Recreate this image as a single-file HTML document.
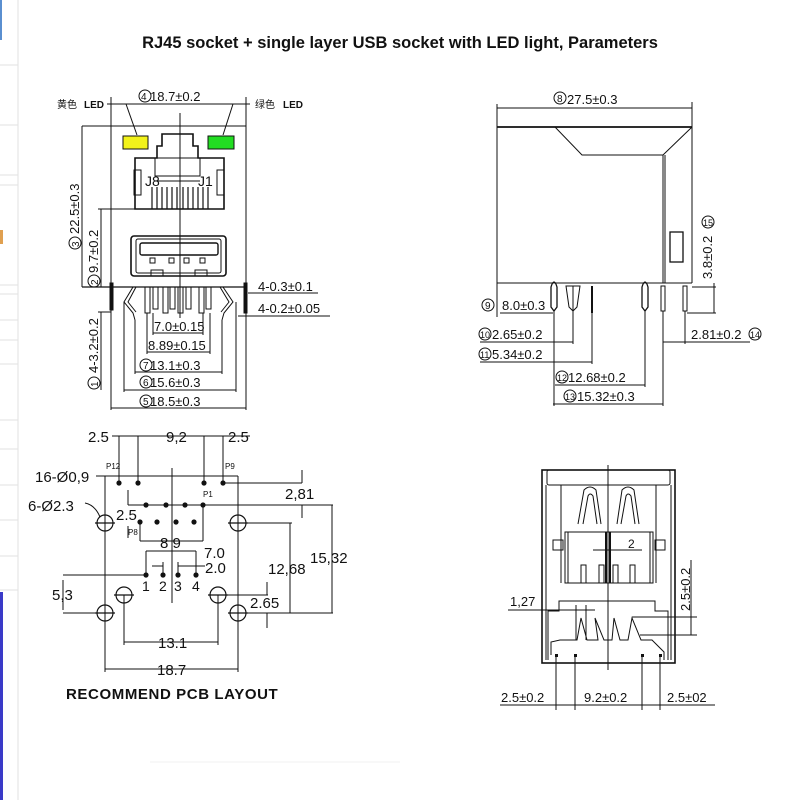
<!DOCTYPE html>
<html><head><meta charset="utf-8"><style>
html,body{margin:0;padding:0;background:#fff;width:800px;height:800px;overflow:hidden}
svg{display:block}
text{font-family:"Liberation Sans","Noto Sans CJK SC",sans-serif;fill:#111}
</style></head><body>
<svg width="800" height="800" viewBox="0 0 800 800" xmlns="http://www.w3.org/2000/svg">
<!-- left UI strip -->
<g stroke="#e2e2e2" stroke-width="1" fill="none">
<line x1="18" y1="0" x2="18" y2="800"/>
<line x1="0" y1="65" x2="18" y2="65"/><line x1="0" y1="125" x2="18" y2="125"/>
<line x1="0" y1="175" x2="18" y2="175"/><line x1="0" y1="185" x2="18" y2="185"/>
<line x1="0" y1="285" x2="18" y2="285"/><line x1="0" y1="294" x2="18" y2="294"/>
<line x1="0" y1="320" x2="18" y2="320"/><line x1="0" y1="340" x2="18" y2="340"/>
<line x1="0" y1="364" x2="18" y2="364"/><line x1="0" y1="420" x2="18" y2="420"/>
<line x1="0" y1="449" x2="18" y2="449"/><line x1="0" y1="485" x2="18" y2="485"/>
<line x1="0" y1="520" x2="18" y2="520"/><line x1="0" y1="556" x2="18" y2="556"/>
<line x1="0" y1="590" x2="18" y2="590"/>
</g>
<rect x="0" y="0" width="2" height="40" fill="#5a8fd0"/>
<rect x="0" y="230" width="3" height="14" fill="#e0a050"/>
<rect x="0" y="592" width="3" height="208" fill="#3a3ac8"/>

<text x="400" y="48" text-anchor="middle" font-size="16.5" font-weight="bold">RJ45 socket + single layer USB socket with LED light, Parameters</text>

<g stroke="#111" stroke-width="1" fill="none">
<!-- ===== TOP LEFT FRONT VIEW ===== -->
<line x1="111" y1="97" x2="111" y2="410"/><line x1="246" y1="97" x2="246" y2="410"/>
<line x1="111" y1="104" x2="246" y2="104"/>
<line x1="82" y1="126" x2="246" y2="126"/>
<line x1="107" y1="104" x2="126" y2="104"/><line x1="126" y1="104" x2="137" y2="135"/>
<line x1="250" y1="104" x2="233" y2="104"/><line x1="233" y1="104" x2="223" y2="135"/>
<line x1="180" y1="113" x2="180" y2="318"/>
<polygon points="135,209 135,158 157,158 157,146 162,146 162,134 193,134 193,146 198,146 198,158 224,158 224,209" stroke-width="1.6"/>
<rect x="155" y="158" width="45" height="18"/>
<rect x="134" y="170" width="7" height="25"/><rect x="217" y="170" width="7" height="25"/>
<line x1="155" y1="181" x2="200" y2="181"/>
<g stroke-width="1.2">
<line x1="152" y1="187" x2="152" y2="209"/><line x1="157" y1="187" x2="157" y2="209"/>
<line x1="162" y1="187" x2="162" y2="209"/><line x1="167" y1="187" x2="167" y2="209"/>
<line x1="172" y1="187" x2="172" y2="209"/><line x1="177" y1="187" x2="177" y2="209"/>
<line x1="183" y1="187" x2="183" y2="209"/><line x1="188" y1="187" x2="188" y2="209"/>
<line x1="193" y1="187" x2="193" y2="209"/><line x1="198" y1="187" x2="198" y2="209"/>
<line x1="203" y1="187" x2="203" y2="209"/><line x1="208" y1="187" x2="208" y2="209"/>
</g>
<line x1="98" y1="209" x2="135" y2="209"/>
<rect x="131" y="236" width="95" height="40" rx="3" stroke-width="1.6"/>
<rect x="136" y="239" width="85" height="34" rx="2"/>
<rect x="140" y="243" width="78" height="12" rx="2" stroke-width="1.4"/>
<rect x="150" y="258" width="5" height="5"/><rect x="169" y="258" width="5" height="5"/>
<rect x="184" y="258" width="5" height="5"/><rect x="200" y="258" width="5" height="5"/>
<rect x="151" y="270" width="12" height="6"/><rect x="195" y="270" width="12" height="6"/>
<line x1="82" y1="287" x2="246" y2="287" stroke-width="1.3"/>
<line x1="82" y1="126" x2="82" y2="287"/>
<line x1="101" y1="209" x2="101" y2="287"/>
<line x1="101" y1="312" x2="101" y2="390"/>
<line x1="98" y1="312" x2="111" y2="312"/>
<rect x="110" y="283" width="3" height="27" fill="#111"/>
<rect x="244" y="283" width="3" height="30" fill="#111"/>
<path d="M133,287 L124,302 L133,313 L135,320 M136,287 L128,302 L136,312"/>
<path d="M223,287 L233,302 L224,313 L222,320 M220,287 L229,302 L221,312"/>
<rect x="145" y="287" width="5" height="26"/><rect x="153" y="287" width="5" height="22"/>
<rect x="163" y="287" width="5" height="26"/><rect x="170" y="287" width="5" height="22"/>
<rect x="178" y="287" width="5" height="26"/><rect x="186" y="287" width="5" height="22"/>
<rect x="199" y="287" width="5" height="26"/><rect x="206" y="287" width="5" height="22"/>
<line x1="248" y1="293" x2="318" y2="293"/><line x1="238" y1="316" x2="330" y2="316"/>
<line x1="153" y1="313" x2="153" y2="335"/><line x1="203" y1="313" x2="203" y2="335"/>
<line x1="153" y1="333" x2="203" y2="333"/>
<line x1="147" y1="313" x2="147" y2="354"/><line x1="210" y1="313" x2="210" y2="354"/>
<line x1="147" y1="352" x2="210" y2="352"/>
<line x1="135" y1="320" x2="135" y2="374"/><line x1="222" y1="320" x2="222" y2="374"/>
<line x1="135" y1="372" x2="222" y2="372"/>
<line x1="124" y1="302" x2="124" y2="392"/><line x1="236" y1="302" x2="236" y2="392"/>
<line x1="124" y1="390" x2="236" y2="390"/>
<line x1="111" y1="408" x2="246" y2="408"/>

<!-- ===== TOP RIGHT SIDE VIEW ===== -->
<line x1="497" y1="104" x2="497" y2="317"/><line x1="692" y1="102" x2="692" y2="127"/>
<line x1="497" y1="108" x2="692" y2="108"/>
<line x1="497" y1="127" x2="692" y2="127" stroke-width="1.8"/>
<polyline points="555,127 582,155 663,155 692,127"/>
<line x1="692" y1="127" x2="692" y2="283"/>
<line x1="663" y1="155" x2="663" y2="283"/><line x1="665" y1="155" x2="665" y2="283"/>
<line x1="497" y1="283" x2="692" y2="283"/>
<rect x="670" y="232" width="13" height="30" stroke-width="1.3"/>
<path d="M551,287 Q554,277 557,287 L557,307 L554,311 L551,307 Z" stroke-width="1.3"/>
<path d="M566,286 L580,286 L577,307 L573,311 L569,307 Z"/>
<line x1="573" y1="286" x2="573" y2="311"/>
<line x1="592" y1="286" x2="592" y2="313" stroke-width="2"/>
<path d="M642,287 Q645,277 648,287 L648,307 L645,311 L642,307 Z" stroke-width="1.3"/>
<rect x="661" y="286" width="4" height="25"/>
<rect x="683" y="286" width="4" height="25"/>
<line x1="500" y1="313" x2="553" y2="313"/>
<line x1="554" y1="311" x2="554" y2="406"/>
<line x1="480" y1="342" x2="573" y2="342"/><line x1="573" y1="311" x2="573" y2="344"/>
<line x1="480" y1="362" x2="592" y2="362"/><line x1="592" y1="313" x2="592" y2="364"/>
<line x1="555" y1="385" x2="645" y2="385"/><line x1="645" y1="311" x2="645" y2="387"/>
<line x1="553" y1="404" x2="663" y2="404"/><line x1="663" y1="311" x2="663" y2="406"/>
<line x1="663" y1="342" x2="750" y2="342"/><line x1="685" y1="311" x2="685" y2="344"/>
<line x1="714" y1="283" x2="714" y2="313"/>
<line x1="692" y1="287" x2="716" y2="287"/><line x1="687" y1="313" x2="716" y2="313"/>

<!-- ===== BOTTOM LEFT PCB ===== -->
<line x1="112" y1="436" x2="250" y2="436"/>
<line x1="119" y1="436" x2="119" y2="482"/><line x1="138" y1="436" x2="138" y2="482"/>
<line x1="204" y1="436" x2="204" y2="482"/><line x1="223" y1="436" x2="223" y2="482"/>
<line x1="105" y1="476" x2="238" y2="476"/>
<line x1="105" y1="476" x2="105" y2="672"/><line x1="238" y1="476" x2="238" y2="672"/>
<line x1="96" y1="476" x2="105" y2="476"/>
<line x1="172" y1="468" x2="172" y2="603"/>
<line x1="128" y1="490" x2="128" y2="505"/><line x1="128" y1="505" x2="203" y2="505"/>
<line x1="128" y1="526" x2="128" y2="538"/>
<line x1="140" y1="522" x2="140" y2="541"/><line x1="140" y1="541" x2="203" y2="541"/>
<line x1="203" y1="505" x2="203" y2="541"/>
<line x1="146" y1="551" x2="146" y2="575"/><line x1="146" y1="551" x2="196" y2="551"/><line x1="196" y1="551" x2="196" y2="575"/>
<line x1="152" y1="566" x2="163" y2="566"/><line x1="178" y1="566" x2="205" y2="566"/>
<line x1="163" y1="562" x2="163" y2="575"/><line x1="178" y1="562" x2="178" y2="575"/>
<line x1="63" y1="575" x2="146" y2="575"/><line x1="63" y1="613" x2="105" y2="613"/>
<line x1="63" y1="580" x2="63" y2="610"/>
<line x1="124" y1="595" x2="124" y2="645"/><line x1="218" y1="595" x2="218" y2="645"/>
<line x1="124" y1="642" x2="218" y2="642"/>
<line x1="105" y1="669" x2="238" y2="669"/>
<line x1="223" y1="483" x2="302" y2="483"/><line x1="203" y1="505" x2="333" y2="505"/>
<line x1="302" y1="470" x2="302" y2="483"/><line x1="302" y1="505" x2="302" y2="518"/>
<line x1="238" y1="523" x2="292" y2="523"/><line x1="290" y1="523" x2="290" y2="613"/>
<line x1="332" y1="505" x2="332" y2="613"/>
<line x1="238" y1="613" x2="333" y2="613"/>
<line x1="218" y1="595" x2="268" y2="595"/>
<line x1="267" y1="582" x2="267" y2="595"/><line x1="267" y1="613" x2="267" y2="628"/>
<path d="M85,503 Q95,505 100,517"/>
<g stroke-width="1.2">
<circle cx="105" cy="523" r="8"/><circle cx="238" cy="523" r="8"/>
<circle cx="124" cy="595" r="8"/><circle cx="218" cy="595" r="8"/>
<circle cx="105" cy="613" r="8"/><circle cx="238" cy="613" r="8"/>
<line x1="95" y1="523" x2="115" y2="523"/><line x1="228" y1="523" x2="248" y2="523"/>
<line x1="114" y1="595" x2="134" y2="595"/><line x1="208" y1="595" x2="228" y2="595"/>
<line x1="95" y1="613" x2="115" y2="613"/><line x1="228" y1="613" x2="248" y2="613"/>
</g>
</g>
<g fill="#111">
<circle cx="119" cy="483" r="2.6"/><circle cx="138" cy="483" r="2.6"/><circle cx="204" cy="483" r="2.6"/><circle cx="223" cy="483" r="2.6"/>
<circle cx="146" cy="505" r="2.6"/><circle cx="166" cy="505" r="2.6"/><circle cx="185" cy="505" r="2.6"/><circle cx="203" cy="505" r="2.6"/>
<circle cx="140" cy="522" r="2.6"/><circle cx="157" cy="522" r="2.6"/><circle cx="176" cy="522" r="2.6"/><circle cx="194" cy="522" r="2.6"/>
<circle cx="146" cy="575" r="2.6"/><circle cx="163" cy="575" r="2.6"/><circle cx="178" cy="575" r="2.6"/><circle cx="196" cy="575" r="2.6"/>
</g>

<!-- ===== BOTTOM RIGHT USB ===== -->
<g stroke="#111" stroke-width="1" fill="none">
<rect x="542" y="470" width="133" height="193" stroke-width="1.6"/>
<rect x="547" y="470" width="123" height="15" rx="2"/>
<line x1="546" y1="485" x2="546" y2="660"/><line x1="671" y1="485" x2="671" y2="660"/>
<line x1="561" y1="485" x2="561" y2="583"/><line x1="656" y1="485" x2="656" y2="583"/>
<rect x="565" y="532" width="88" height="51"/>
<line x1="568" y1="532" x2="568" y2="583"/><line x1="650" y1="532" x2="650" y2="583"/>
<rect x="553" y="540" width="10" height="10"/><rect x="655" y="540" width="10" height="10"/>
<path d="M578,524 L584,490 Q590,484 596,490 L601,524 M583,524 L588,496 Q590,492 593,496 L597,524"/>
<path d="M617,524 L622,490 Q628,484 634,490 L639,524 M621,524 L626,496 Q628,492 631,496 L635,524"/>
<rect x="581" y="565" width="5" height="18"/><rect x="599" y="565" width="5" height="18"/>
<rect x="613" y="565" width="5" height="18"/><rect x="630" y="565" width="5" height="18"/>
<line x1="608" y1="465" x2="608" y2="670"/>
<line x1="606" y1="532" x2="606" y2="583" stroke-width="2"/><line x1="610" y1="532" x2="610" y2="583" stroke-width="2"/>
<line x1="593" y1="550" x2="642" y2="550"/>
<polyline points="548,660 548,611 559,611 559,601 655,601 655,611 668,611 668,660"/>
<polyline points="551,655 551,642 560,640 577,640 581,618 587,640 598,640 595,618 604,640 612,640 614,618 620,640 628,640 632,618 641,640 652,640 664,652 664,660"/>
<line x1="508" y1="610" x2="595" y2="610"/>
<line x1="576" y1="605" x2="576" y2="640"/><line x1="586" y1="605" x2="586" y2="640"/>
<line x1="632" y1="617" x2="697" y2="617"/><line x1="640" y1="635" x2="697" y2="635"/>
<line x1="691" y1="560" x2="691" y2="635"/>
<line x1="500" y1="705" x2="715" y2="705"/>
<line x1="556" y1="655" x2="556" y2="710"/><line x1="575" y1="655" x2="575" y2="710"/>
<line x1="642" y1="655" x2="642" y2="710"/><line x1="660" y1="655" x2="660" y2="710"/>
</g>
<g fill="#111">
<rect x="555" y="654" width="3" height="3"/><rect x="574" y="654" width="3" height="3"/>
<rect x="641" y="654" width="3" height="3"/><rect x="659" y="654" width="3" height="3"/>
</g>

<rect x="123" y="136" width="25" height="13" fill="#f2f21a" stroke="#111"/>
<rect x="208" y="136" width="26" height="13" fill="#22dd22" stroke="#111"/>

<!-- ===== TEXT ===== -->
<g font-size="13">
<text x="150" y="101">18.7±0.2</text>
<circle cx="145" cy="96" r="6" fill="none" stroke="#111"/><text x="141" y="100" font-size="10">4</text>
<text x="57" y="108" font-size="10" fill="#666">黄色</text><text x="84" y="108" font-size="10" font-weight="bold" font-family="Liberation Serif">LED</text>
<text x="255" y="108" font-size="10" fill="#666">绿色</text><text x="283" y="108" font-size="10" font-weight="bold" font-family="Liberation Serif">LED</text>
<text x="145" y="186" font-size="14" fill="#333">J8</text><text x="198" y="186" font-size="14" fill="#333">J1</text>
<text transform="translate(79,234) rotate(-90)">22.5±0.3</text>
<circle cx="75" cy="243" r="6" fill="none" stroke="#111"/><text transform="translate(79,247) rotate(-90)" font-size="10">3</text>
<text transform="translate(98,273) rotate(-90)">9.7±0.2</text>
<circle cx="94" cy="281" r="6" fill="none" stroke="#111"/><text transform="translate(98,285) rotate(-90)" font-size="10">2</text>
<text transform="translate(98,373) rotate(-90)">4-3.2±0.2</text>
<circle cx="94" cy="383" r="6" fill="none" stroke="#111"/><text transform="translate(98,387) rotate(-90)" font-size="10">1</text>
<text x="258" y="291">4-0.3±0.1</text>
<text x="258" y="313">4-0.2±0.05</text>
<text x="154" y="331">7.0±0.15</text>
<text x="148" y="350">8.89±0.15</text>
<text x="150" y="370">13.1±0.3</text><circle cx="146" cy="365" r="6" fill="none" stroke="#111"/><text x="143" y="369" font-size="10">7</text>
<text x="150" y="387">15.6±0.3</text><circle cx="146" cy="382" r="6" fill="none" stroke="#111"/><text x="143" y="386" font-size="10">6</text>
<text x="150" y="406">18.5±0.3</text><circle cx="146" cy="401" r="6" fill="none" stroke="#111"/><text x="143" y="405" font-size="10">5</text>

<text x="567" y="104">27.5±0.3</text><circle cx="560" cy="98" r="6" fill="none" stroke="#111"/><text x="557" y="102" font-size="10">8</text>
<text x="502" y="310">8.0±0.3</text><circle cx="488" cy="305" r="6" fill="none" stroke="#111"/><text x="485" y="309" font-size="10">9</text>
<text x="492" y="339">2.65±0.2</text><circle cx="485" cy="334" r="6" fill="none" stroke="#111"/><text x="480" y="338" font-size="9">10</text>
<text x="492" y="359">5.34±0.2</text><circle cx="485" cy="354" r="6" fill="none" stroke="#111"/><text x="480" y="358" font-size="9">11</text>
<text x="568" y="382">12.68±0.2</text><circle cx="562" cy="377" r="6" fill="none" stroke="#111"/><text x="557" y="381" font-size="9">12</text>
<text x="577" y="401">15.32±0.3</text><circle cx="570" cy="396" r="6" fill="none" stroke="#111"/><text x="565" y="400" font-size="9">13</text>
<text x="691" y="339">2.81±0.2</text><circle cx="755" cy="334" r="6" fill="none" stroke="#111"/><text x="750" y="338" font-size="9">14</text>
<text transform="translate(712,279) rotate(-90)">3.8±0.2</text><circle cx="708" cy="222" r="6" fill="none" stroke="#111"/><text x="703" y="226" font-size="9">15</text>

<text x="88" y="442" font-size="15">2.5</text><text x="166" y="442" font-size="15">9,2</text><text x="228" y="442" font-size="15">2.5</text>
<text x="106" y="469" font-size="8" font-family="Liberation Serif" fill="#555">P12</text>
<text x="225" y="469" font-size="8" font-family="Liberation Serif" fill="#555">P9</text>
<text x="203" y="497" font-size="8" font-family="Liberation Serif" fill="#555">P1</text>
<text x="128" y="535" font-size="8" font-family="Liberation Serif" fill="#555">P8</text>
<text x="35" y="482" font-size="15">16-Ø0,9</text>
<text x="28" y="511" font-size="15">6-Ø2.3</text>
<text x="116" y="520" font-size="15">2.5</text>
<text x="160" y="548" font-size="15">8 9</text>
<text x="204" y="558" font-size="15">7.0</text>
<text x="205" y="573" font-size="15">2.0</text>
<text x="142" y="591" font-size="14">1</text><text x="159" y="591" font-size="14">2</text><text x="174" y="591" font-size="14">3</text><text x="192" y="591" font-size="14">4</text>
<text x="52" y="600" font-size="15">5,3</text>
<text x="268" y="574" font-size="15">12,68</text>
<text x="310" y="563" font-size="15">15,32</text>
<text x="285" y="499" font-size="15">2,81</text>
<text x="250" y="608" font-size="15">2.65</text>
<text x="158" y="648" font-size="15">13.1</text>
<text x="157" y="675" font-size="15">18.7</text>
<text x="66" y="699" font-size="15" font-weight="bold" font-family="Liberation Serif" letter-spacing="0.6">RECOMMEND  PCB  LAYOUT</text>

<text x="628" y="548" font-size="12">2</text>
<text x="510" y="606">1,27</text>
<text transform="translate(690,611) rotate(-90)">2.5±0.2</text>
<text x="501" y="702">2.5±0.2</text><text x="584" y="702">9.2±0.2</text><text x="667" y="702">2.5±02</text>
</g>
<line x1="150" y1="762" x2="400" y2="762" stroke="#f2f2f2"/>
</svg>
</body></html>
